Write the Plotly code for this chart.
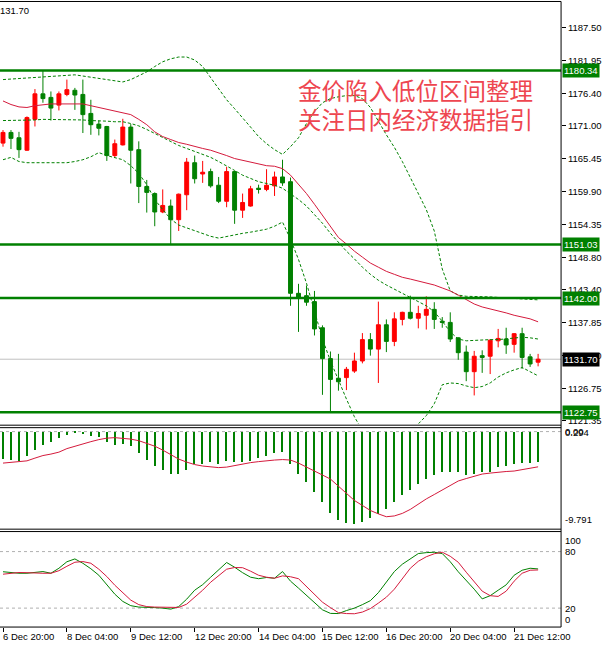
import plotly.graph_objects as go

W, H = 602, 646
AXIS_X = 562  # px where the price scale begins

# ---- data (H4 bars) ----
bar_idx = list(range(68))

opens = [1168.1, 1169.9, 1169.0, 1166.9, 1172.1, 1176.4, 1175.8, 1174.5, 1176.3, 1177.0,
         1176.3, 1173.1, 1171.3, 1170.9, 1166.0, 1167.8, 1170.8, 1167.0, 1160.8, 1159.6,
         1156.5, 1157.5, 1155.2, 1159.4, 1164.8, 1162.9, 1163.3, 1161.0, 1158.3, 1163.3,
         1156.8, 1157.5, 1160.5, 1160.3, 1160.9, 1162.4, 1161.6, 1142.8, 1142.4, 1141.4,
         1137.0, 1131.8, 1128.5, 1128.6, 1129.7, 1131.4, 1135.0, 1133.4, 1137.5, 1134.7,
         1138.4, 1139.6, 1138.6, 1139.1, 1140.1, 1138.1, 1137.9, 1135.3, 1132.9, 1129.6,
         1132.3, 1132.2, 1134.8, 1135.1, 1134.2, 1136.0, 1132.1, 1131.2]
highs = [1170.3, 1170.3, 1170.0, 1172.6, 1177.2, 1180.3, 1176.8, 1176.8, 1178.8, 1177.4,
         1178.8, 1175.4, 1171.9, 1171.0, 1168.7, 1172.2, 1171.3, 1168.4, 1161.9, 1159.8,
         1160.3, 1158.6, 1159.6, 1165.6, 1166.0, 1165.1, 1163.8, 1162.4, 1164.1, 1163.4,
         1159.6, 1160.9, 1161.1, 1163.7, 1163.3, 1165.3, 1162.3, 1144.4, 1144.1, 1143.2,
         1137.4, 1133.0, 1132.6, 1130.4, 1132.8, 1136.1, 1136.1, 1141.4, 1138.4, 1139.6,
         1139.7, 1142.4, 1140.7, 1142.3, 1141.3, 1138.8, 1139.6, 1135.4, 1134.0, 1133.1,
         1133.2, 1135.1, 1136.8, 1137.0, 1136.1, 1137.0, 1132.6, 1132.6]
lows = [1167.5, 1167.1, 1165.6, 1166.8, 1170.9, 1174.9, 1171.9, 1173.6, 1176.0, 1173.7,
        1169.8, 1169.5, 1169.4, 1165.1, 1165.6, 1167.7, 1161.3, 1158.0, 1156.4, 1154.1,
        1156.3, 1151.0, 1153.3, 1156.8, 1161.3, 1161.4, 1160.6, 1158.0, 1157.3, 1154.5,
        1155.5, 1157.4, 1159.6, 1160.0, 1159.2, 1160.9, 1140.7, 1136.3, 1140.7, 1135.7,
        1125.7, 1122.8, 1126.4, 1126.5, 1129.4, 1131.0, 1132.3, 1127.7, 1132.9, 1133.9,
        1137.4, 1138.4, 1136.9, 1136.7, 1136.8, 1137.0, 1134.6, 1131.6, 1128.0, 1125.6,
        1129.4, 1129.2, 1133.7, 1132.6, 1132.8, 1130.1, 1130.4, 1130.5]
closes = [1169.9, 1168.9, 1167.0, 1172.4, 1176.4, 1175.6, 1174.0, 1176.4, 1177.1, 1176.2,
          1172.9, 1171.2, 1170.6, 1166.0, 1168.0, 1170.8, 1166.9, 1160.8, 1159.8, 1156.5,
          1157.6, 1155.2, 1159.5, 1164.9, 1162.1, 1163.2, 1160.9, 1158.3, 1163.3, 1156.8,
          1158.1, 1160.4, 1160.3, 1161.0, 1162.4, 1161.4, 1142.8, 1142.0, 1141.3, 1136.8,
          1131.8, 1128.3, 1127.9, 1130.0, 1131.4, 1135.0, 1133.4, 1137.5, 1134.7, 1138.5,
          1139.6, 1138.6, 1139.4, 1140.1, 1138.4, 1137.9, 1135.1, 1132.8, 1129.6, 1132.2,
          1132.0, 1134.9, 1135.2, 1134.1, 1136.0, 1132.0, 1130.9, 1131.7]

ma_line = [1175.2, 1174.6, 1174.2, 1174.1, 1174.4, 1174.6, 1174.7, 1174.7, 1174.7, 1174.7,
           1174.7, 1174.4, 1174.1, 1173.7, 1173.4, 1173.2, 1172.9, 1172.1, 1171.2, 1170.0,
           1169.2, 1168.7, 1168.2, 1167.9, 1167.5, 1167.2, 1166.9, 1166.5, 1166.0, 1165.5,
           1165.2, 1164.8, 1164.5, 1164.3, 1164.2, 1163.8, 1162.7, 1161.1, 1159.6, 1157.8,
           1155.9, 1153.9, 1152.2, 1151.1, 1149.9, 1148.9, 1147.9, 1147.2, 1146.5, 1146.0,
           1145.5, 1145.2, 1144.9, 1144.5, 1144.2, 1143.7, 1143.2, 1142.5, 1141.7, 1141.0,
           1140.5, 1140.2, 1139.8, 1139.5, 1139.1, 1138.8, 1138.5, 1138.0]

bb_upper = [1178.8, 1178.9, 1179.0, 1179.1, 1179.2, 1179.3, 1179.4, 1179.5, 1179.6, 1179.6,
            1179.4, 1179.2, 1178.9, 1178.7, 1178.5, 1178.4, 1178.8, 1179.4, 1180.1, 1181.0,
            1181.8, 1182.3, 1182.6, 1182.6, 1182.1, 1181.0, 1179.1, 1177.3, 1175.4, 1173.9,
            1172.4, 1170.8, 1169.2, 1168.0, 1167.0, 1166.2, 1167.5, 1169.0, 1171.4, 1173.4,
            1174.9, 1175.6, 1175.9, 1176.1, 1176.1, 1175.6, 1174.1, 1171.7, 1169.5, 1167.4,
            1165.0, 1162.3, 1159.6, 1156.9, 1153.3, 1146.9, 1143.2, 1142.5, 1142.3, 1142.3,
            1142.3, 1142.2, 1142.1, 1142.0, 1141.9, 1141.9, 1141.8, 1141.7]
bb_middle = [1171.9, 1171.9, 1171.9, 1172.0, 1172.0, 1172.1, 1172.1, 1172.1, 1172.1, 1172.0,
             1172.0, 1171.9, 1171.9, 1171.8, 1171.7, 1171.7, 1171.4, 1171.0, 1170.4, 1169.7,
             1169.0, 1168.4, 1167.7, 1167.2, 1166.7, 1166.2, 1165.7, 1165.0, 1164.3, 1163.5,
             1162.7, 1162.1, 1161.6, 1161.3, 1161.0, 1160.5, 1159.6, 1158.6, 1157.5, 1156.1,
             1154.6, 1152.9, 1151.4, 1149.9, 1148.6, 1147.2, 1146.0, 1145.0, 1144.2, 1143.5,
             1142.8, 1142.2, 1141.5, 1140.7, 1139.7, 1138.1, 1136.3, 1135.1, 1134.8, 1134.9,
             1134.9, 1135.0, 1135.0, 1135.1, 1135.3, 1135.4, 1135.3, 1135.1]
bb_lower = [1165.3, 1165.7, 1165.0, 1164.8, 1164.8, 1164.8, 1164.8, 1164.8, 1164.8, 1165.0,
            1165.3, 1165.8, 1166.5, 1166.0, 1165.7, 1165.3, 1164.3, 1163.0, 1161.1, 1158.6,
            1156.9, 1155.3, 1154.3, 1153.8, 1153.3, 1152.9, 1152.4, 1152.1, 1152.4, 1152.6,
            1152.9, 1153.1, 1153.3, 1153.6, 1154.1, 1154.8, 1151.9, 1148.5, 1144.5, 1140.0,
            1135.1, 1131.4, 1128.1, 1125.0, 1122.0, 1119.7, 1118.7, 1118.3, 1118.7, 1119.3,
            1119.5, 1119.8, 1120.8, 1122.2, 1124.2, 1127.4, 1127.7, 1127.6, 1127.2, 1126.9,
            1127.1, 1127.7, 1128.7, 1129.4, 1129.9, 1130.3, 1129.6, 1128.9]

macd_hist = [-2.76, -2.83, -2.93, -2.48, -1.81, -1.33, -1.06, -0.65, -0.32, -0.11,
             -0.21, -0.39, -0.55, -1.06, -1.33, -1.23, -1.47, -2.18, -2.83, -3.44,
             -3.85, -4.29, -4.29, -3.85, -3.27, -3.27, -3.10, -3.27, -2.93, -3.10,
             -3.03, -2.93, -2.69, -2.48, -2.15, -2.02, -3.27, -4.29, -5.13, -6.15,
             -7.17, -8.29, -9.04, -9.28, -9.41, -9.21, -8.77, -8.36, -7.85, -7.11,
             -6.43, -5.89, -5.31, -4.80, -4.36, -4.05, -4.11, -4.11, -4.39, -4.29,
             -4.11, -4.05, -3.60, -3.44, -3.27, -3.20, -3.20, -3.10]
macd_signal = [-3.22, -3.15, -3.07, -2.99, -2.71, -2.45, -2.30, -2.10, -1.74, -1.49,
               -1.23, -1.03, -0.82, -0.67, -0.62, -0.67, -0.77, -0.93, -1.23, -1.49,
               -1.89, -2.35, -2.81, -3.12, -3.37, -3.52, -3.63, -3.68, -3.63, -3.47,
               -3.32, -3.17, -3.07, -2.96, -2.91, -2.86, -2.91, -3.22, -3.60, -4.03,
               -4.44, -4.85, -5.61, -6.33, -7.04, -7.55, -8.06, -8.41, -8.70, -8.62,
               -8.36, -7.95, -7.39, -6.88, -6.43, -5.97, -5.51, -5.05, -4.80, -4.54,
               -4.34, -4.24, -4.13, -4.08, -4.03, -3.88, -3.73, -3.60]

stoch_k = [58.6, 57.6, 57.0, 57.0, 58.1, 58.8, 57.0, 62.3, 69.2, 72.2,
           67.6, 61.8, 54.9, 45.4, 34.8, 27.1, 22.6, 21.1, 21.1, 20.5,
           20.0, 18.9, 21.6, 29.5, 39.0, 44.9, 52.8, 60.2, 68.4, 63.4,
           57.6, 52.8, 51.2, 52.5, 51.7, 58.8, 48.6, 41.2, 33.8, 25.8,
           18.2, 14.4, 14.2, 17.4, 20.0, 23.7, 27.9, 36.4, 47.5, 58.8,
           66.6, 72.4, 77.9, 78.9, 79.3, 77.9, 69.2, 58.6, 49.9, 40.1,
           29.8, 33.2, 39.0, 44.7, 54.9, 60.2, 62.3, 61.6]
stoch_d = [56.0, 57.0, 57.8, 57.6, 57.0, 57.0, 57.0, 59.7, 64.4, 68.7,
           69.4, 67.6, 61.3, 53.5, 44.3, 35.9, 28.5, 23.7, 21.6, 21.1,
           21.1, 20.7, 20.7, 24.2, 31.6, 39.0, 47.5, 54.9, 61.3, 63.1,
           62.9, 59.2, 54.9, 52.8, 51.7, 54.2, 53.3, 51.2, 43.0, 34.8,
           26.3, 20.5, 15.2, 14.2, 14.0, 15.8, 19.5, 25.3, 31.6, 40.1,
           51.2, 62.3, 69.7, 74.5, 77.7, 79.3, 75.0, 68.7, 58.1, 48.0,
           38.0, 33.2, 32.4, 38.0, 48.6, 57.0, 60.2, 60.5]

level_lines = [1180.34, 1151.03, 1142.00, 1122.75]
last_price = 1131.70
price_ticks = [1187.50, 1181.95, 1176.40, 1171.00, 1165.45, 1159.90, 1154.35,
               1148.80, 1143.40, 1137.85, 1132.30, 1126.75, 1121.35]
macd_labels = [0.00, 0.294, -9.791]
stoch_levels = [20, 80]
stoch_labels = [100, 80, 20, 0]
time_ticks = [0, 8, 16, 24, 32, 40, 48, 56, 64]
time_labels = ["6 Dec 20:00", "8 Dec 04:00", "9 Dec 12:00", "12 Dec 20:00", "14 Dec 04:00",
               "15 Dec 12:00", "16 Dec 20:00", "20 Dec 04:00", "21 Dec 12:00"]
headline = ["金价陷入低位区间整理", "关注日内经济数据指引"]
corner_text = "131.70"


def px(x):
    return x / W


def py(y):
    return 1 - y / H


GREEN = "#008000"
RED = "#ff0000"
CRIMSON = "#d41a3c"
FONT = "Liberation Sans"

fig = go.Figure()

# price panel
fig.add_trace(go.Candlestick(
    x=bar_idx, open=opens, high=highs, low=lows, close=closes,
    increasing={"line": {"color": RED, "width": 1}, "fillcolor": RED},
    decreasing={"line": {"color": GREEN, "width": 1}, "fillcolor": GREEN},
    whiskerwidth=0, hoverinfo="skip",
))
for band in (bb_upper, bb_middle, bb_lower):
    fig.add_trace(go.Scatter(x=bar_idx, y=band, mode="lines",
                             line={"color": GREEN, "width": 1, "dash": "3px,2px"}))
fig.add_trace(go.Scatter(x=bar_idx, y=ma_line, mode="lines",
                         line={"color": CRIMSON, "width": 1}))

# MACD panel
fig.add_trace(go.Bar(x=bar_idx, y=macd_hist, width=0.18, marker={"color": GREEN, "line": {"width": 0}},
                     xaxis="x2", yaxis="y2"))
fig.add_trace(go.Scatter(x=bar_idx, y=macd_signal, mode="lines",
                         line={"color": CRIMSON, "width": 1}, xaxis="x2", yaxis="y2"))

# Stochastic panel
fig.add_trace(go.Scatter(x=bar_idx, y=stoch_k, mode="lines",
                         line={"color": GREEN, "width": 1}, xaxis="x3", yaxis="y3"))
fig.add_trace(go.Scatter(x=bar_idx, y=stoch_d, mode="lines",
                         line={"color": CRIMSON, "width": 1}, xaxis="x3", yaxis="y3"))

x_range = [-0.375, 69.875]
x_common = dict(range=x_range, domain=[0, px(AXIS_X)], showgrid=False, zeroline=False,
                showticklabels=False, ticks="", fixedrange=True)

shapes = []
# key levels
for lv in level_lines:
    shapes.append(dict(type="line", xref="paper", yref="y", x0=0, x1=px(AXIS_X), y0=lv, y1=lv,
                       line={"color": GREEN, "width": 2.5}, layer="above"))
shapes.append(dict(type="line", xref="paper", yref="y", x0=0, x1=px(AXIS_X),
                   y0=last_price, y1=last_price, line={"color": "#c0c0c0", "width": 1}, layer="below"))
shapes.append(dict(type="line", xref="paper", yref="y2", x0=0, x1=px(AXIS_X), y0=0, y1=0,
                   line={"color": "#b0b0b0", "width": 1, "dash": "3px,3px"}, layer="below"))
for lv in stoch_levels:
    shapes.append(dict(type="line", xref="paper", yref="y3", x0=0, x1=px(AXIS_X), y0=lv, y1=lv,
                       line={"color": "#b0b0b0", "width": 1, "dash": "3px,3px"}, layer="below"))
# window frames
for yy in (1.5, 426.5, 429, 530.8, 533.2, 629):
    shapes.append(dict(type="line", xref="paper", yref="paper", x0=0, x1=px(AXIS_X),
                       y0=py(yy), y1=py(yy), line={"color": "black", "width": 1}))
shapes.append(dict(type="line", xref="paper", yref="paper", x0=px(AXIS_X), x1=px(AXIS_X),
                   y0=py(629), y1=py(1.5), line={"color": "black", "width": 1}))

ann = []
small = {"family": FONT, "size": 9.5, "color": "black"}
for lv in level_lines:
    ann.append(dict(xref="paper", yref="y", x=px(AXIS_X + 1), y=lv, xanchor="left", yanchor="middle",
                    text=f"{lv:.2f}", showarrow=False, bgcolor=GREEN, borderpad=1,
                    font={"family": FONT, "size": 9.5, "color": "white"}))
ann.append(dict(xref="paper", yref="y", x=px(AXIS_X + 1), y=last_price, xanchor="left", yanchor="middle",
                text=f"{last_price:.2f}", showarrow=False, bgcolor="black", borderpad=1,
                font={"family": FONT, "size": 9.5, "color": "white"}))
for i, line in enumerate(headline):
    ann.append(dict(xref="paper", yref="paper", x=px(296), y=py(90 + 29 * i), xanchor="left",
                    yanchor="middle", text=line, showarrow=False,
                    font={"family": "Noto Sans CJK SC", "size": 23.5, "color": "#ee4650"}))
ann.append(dict(xref="paper", yref="paper", x=0, y=py(10.5), xanchor="left", yanchor="middle",
                text=corner_text, showarrow=False, xshift=-2, font=small))
for v in macd_labels:
    ann.append(dict(xref="paper", yref="y2", x=px(AXIS_X + 2), y=v, xanchor="left",
                    yanchor="bottom" if v < -1 else "middle",
                    yshift=-4 if v > 0.1 else 0,
                    text=f"{v:.2f}" if v == 0 else f"{v:.3f}", showarrow=False, font=small))
for v in stoch_labels:
    ann.append(dict(xref="paper", yref="y3", x=px(AXIS_X + 2), y=v, xanchor="left",
                    yanchor="top" if v == 100 else ("bottom" if v == 0 else "middle"),
                    text=str(v), showarrow=False, font=small))
for t, lab in zip(time_ticks, time_labels):
    ann.append(dict(xref="x3", yref="paper", x=t, y=py(638.5), xanchor="left", yanchor="middle",
                    xshift=-2, text=lab, showarrow=False, font=small))

fig.update_layout(
    width=W, height=H,
    margin={"l": 0, "r": 0, "t": 0, "b": 0},
    paper_bgcolor="white", plot_bgcolor="white",
    showlegend=False, boxgap=0.3, bargap=0,
    xaxis={**x_common, "anchor": "y", "rangeslider": {"visible": False}},
    xaxis2={**x_common, "anchor": "y2", "matches": "x"},
    xaxis3={**x_common, "anchor": "y3", "matches": "x", "ticks": "outside", "ticklen": 4,
            "tickcolor": "black", "tickvals": time_ticks},
    yaxis={"domain": [py(425), py(2)], "range": [1120.84, 1191.87], "side": "right", "anchor": "x",
           "tickvals": price_ticks, "ticktext": [f"{p:.2f}" for p in price_ticks],
           "ticks": "outside", "ticklen": 4, "tickcolor": "black", "tickfont": small,
           "showgrid": False, "zeroline": False, "fixedrange": True},
    yaxis2={"domain": [py(531), py(429)], "range": [-9.99, 0.40], "anchor": "x2",
            "showgrid": False, "zeroline": False, "showticklabels": False, "fixedrange": True},
    yaxis3={"domain": [py(628.9), py(534.4)], "range": [0, 100], "anchor": "x3",
            "showgrid": False, "zeroline": False, "showticklabels": False, "fixedrange": True},
    shapes=shapes,
    annotations=ann,
)

# the page body has a default 8px margin; drop it so the figure fills the window
fig.write_html("out.html", config={"displayModeBar": False},
               post_script="document.body.style.margin='0px';document.body.style.overflow='hidden';")
